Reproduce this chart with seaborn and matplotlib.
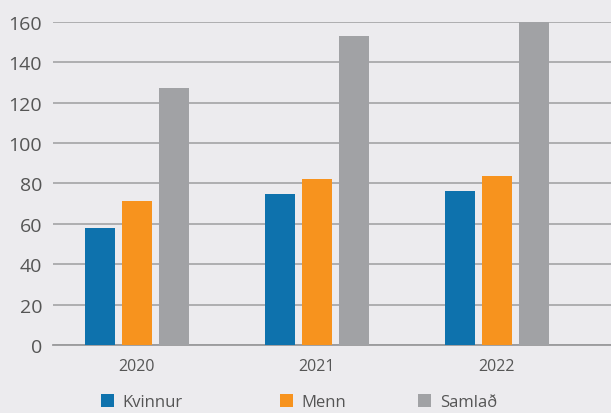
import pandas as pd
import seaborn as sns
from matplotlib import pyplot as plt

years = ['2020', '2021', '2022']
groups = ['Kvinnur', 'Menn', 'Samlað']
kvinnur = [58, 75, 76.5]
menn = [71.5, 82, 83.5]
samlad = [127, 153, 160]
colors = ['#0e72ad', '#f7931e', '#a1a2a5']
bg = '#ecebee'

df = pd.DataFrame({
    'ár': years * 3,
    'bólkur': [g for g in groups for _ in years],
    'tal': kvinnur + menn + samlad,
})

sns.set_theme(style='white')
plt.rcParams['font.family'] = ['Open Sans', 'DejaVu Sans']

fig = plt.figure(figsize=(6.11, 4.14), dpi=100, facecolor=bg)
ax = fig.add_axes([0.087, 0.164, 0.913, 0.781], facecolor=bg)

sns.barplot(data=df, x='ár', y='tal', hue='bólkur', palette=colors,
            width=0.617, gap=0.19, saturation=1, linewidth=0, ax=ax, zorder=3)

ax.set_ylim(0, 160)
ax.set_xlim(-0.465, 2.635)
ax.set_yticks(range(0, 161, 20))
ax.grid(axis='y', color='#a9a9ab', linewidth=1.3, zorder=0)
ax.set_xlabel('')
ax.set_ylabel('')
for s in ['top', 'right', 'left']:
    ax.spines[s].set_visible(False)
ax.spines['bottom'].set_color('#9a9a9c')
ax.spines['bottom'].set_linewidth(1.3)
ax.tick_params(axis='y', labelsize=14, colors='#555555', length=0, pad=8)
ax.tick_params(axis='x', labelsize=11.5, colors='#555555', length=0, pad=9)

handles, labels = ax.get_legend_handles_labels()
ax.get_legend().remove()
xpos = [0.146, 0.439, 0.665]
for h, l, x in zip(handles, labels, xpos):
    fig.legend([h], [l], loc='lower left', bbox_to_anchor=(x, -0.022),
               frameon=False, fontsize=12, handlelength=0.8, handleheight=0.8,
               handletextpad=0.5, labelcolor='#555555', borderpad=0.2)

fig.savefig('out.png', dpi=100, facecolor=bg)
